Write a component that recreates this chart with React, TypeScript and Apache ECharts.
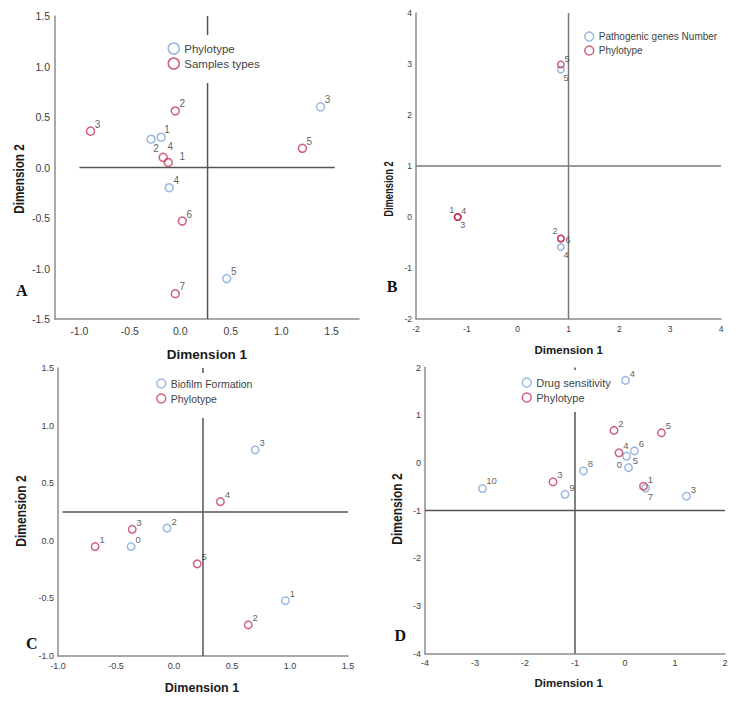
import React, { useEffect, useRef } from 'react';
import * as echarts from 'echarts';

const BLUE = '#7fa8d9';
const RED = '#c73a5f';
const FONT = '"Liberation Sans", Arial, Helvetica, sans-serif';
const SERIF = '"Liberation Serif", "Times New Roman", serif';

// ---------- Panel A ----------
const aXTicks = [-1, -0.5, 0, 0.5, 1, 1.5];
const aYTicks = [-1.5, -1, -0.5, 0, 0.5, 1, 1.5];
const aPhyloLabels = ['3', '1', '2', '4', '5'];
const aPhyloX = [1.39, -0.19, -0.29, -0.11, 0.46];
const aPhyloY = [0.6, 0.3, 0.28, -0.2, -1.1];
const aSampleLabels = ['3', '2', '4', '1', '6', '7', '5'];
const aSampleX = [-0.89, -0.05, -0.17, -0.12, 0.02, -0.05, 1.21];
const aSampleY = [0.36, 0.56, 0.1, 0.05, -0.53, -1.25, 0.19];
const aRefV = [0.27, -1.5, 1.5]; // x, y from, y to
const aRefH = [0, -1.0, 1.53]; // y, x from, x to

// ---------- Panel B ----------
const bXTicks = [-2, -1, 0, 1, 2, 3, 4];
const bYTicks = [-2, -1, 0, 1, 2, 3, 4];
const bGenesLabels = ['5', '4'];
const bGenesX = [0.85, 0.85];
const bGenesY = [2.89, -0.59];
const bPhyloLabels = ['5', '1', '4', '3', '2', '6'];
const bPhyloX = [0.85, -1.18, -1.18, -1.18, 0.85, 0.85];
const bPhyloY = [2.99, 0.0, 0.0, 0.0, -0.42, -0.42];
const bRefV = [1, -2, 4];
const bRefH = [1, -2, 4];

// ---------- Panel C ----------
const cXTicks = [-1, -0.5, 0, 0.5, 1, 1.5];
const cYTicks = [-1, -0.5, 0, 0.5, 1, 1.5];
const cBioLabels = ['3', '2', '0', '1'];
const cBioX = [0.7, -0.06, -0.37, 0.96];
const cBioY = [0.79, 0.11, -0.05, -0.52];
const cPhyloLabels = ['4', '3', '1', '5', '2'];
const cPhyloX = [0.4, -0.36, -0.68, 0.2, 0.64];
const cPhyloY = [0.34, 0.1, -0.05, -0.2, -0.73];
const cRefV = [0.25, -1, 1.5];
const cRefH = [0.25, -0.96, 1.5];

// ---------- Panel D ----------
const dXTicks = [-4, -3, -2, -1, 0, 1, 2];
const dYTicks = [-4, -3, -2, -1, 0, 1, 2];
const dDrugLabels = ['4', '6', '0', '5', '8', '9', '10', '7', '3'];
const dDrugX = [0.01, 0.19, 0.03, 0.07, -0.83, -1.2, -2.85, 0.41, 1.23];
const dDrugY = [1.73, 0.25, 0.14, -0.1, -0.17, -0.66, -0.54, -0.53, -0.7];
const dPhyloLabels = ['2', '5', '4', '3', '1'];
const dPhyloX = [-0.22, 0.73, -0.12, -1.44, 0.37];
const dPhyloY = [0.68, 0.63, 0.21, -0.4, -0.49];
const dRefV = [-1, -4, 2];
const dRefH = [-1, -4, 2];

// label offsets (placement of the point numbers)
const TR = [7, -7];
const BR = [5, 8];
const TL = [-6, -7];
const aPhyloOffsets = [TR, [6, -8], [5, 9], TR, TR];
const aSampleOffsets = [TR, TR, [7, -11], [14, -6], TR, TR, TR];
const bGenesOffsets = [BR, BR];
const bPhyloOffsets = [[6, -6], TL, [6, -6], BR, TL, [7, 2]];
const cBioOffsets = [TR, TR, TR, TR];
const cPhyloOffsets = [TR, TR, TR, TR, TR];
const dDrugOffsets = [TR, TR, [-7, 8], TR, TR, TR, [9, -8], BR, TR];
const dPhyloOffsets = [TR, TR, TR, TR, TR];

const panels = [
  {
    key: 'A',
    xTicks: aXTicks, yTicks: aYTicks, refV: aRefV, refH: aRefH,
    sets: [
      { name: 'Phylotype', color: BLUE, labels: aPhyloLabels, xs: aPhyloX, ys: aPhyloY, offs: aPhyloOffsets },
      { name: 'Samples types', color: RED, labels: aSampleLabels, xs: aSampleX, ys: aSampleY, offs: aSampleOffsets },
    ],
    grid: { left: 55, top: 16, width: 304, height: 303 },
    xMin: -1.242, xMax: 1.771, yMin: -1.5, yMax: 1.5, dec: 1,
    tickFont: 10.5, xMargin: 6, yMargin: 5, ptFont: 10, sym: 8, refColor: '#555',
    legend: { left: 163.5, top: 35, padding: [7, 6, 13, 4], icon: 11, font: 11.5, gap: 2 },
    letter: { x: 21.7, y: 290 },
    dim1: { x: 207, y: 354, size: 13.5 },
    dim2: { x: 19, y: 179, size: 15, scale: 0.78 },
  },
  {
    key: 'B',
    xTicks: bXTicks, yTicks: bYTicks, refV: bRefV, refH: bRefH,
    sets: [
      { name: 'Pathogenic genes Number', color: BLUE, labels: bGenesLabels, xs: bGenesX, ys: bGenesY, offs: bGenesOffsets },
      { name: 'Phylotype', color: RED, labels: bPhyloLabels, xs: bPhyloX, ys: bPhyloY, offs: bPhyloOffsets },
    ],
    grid: { left: 416, top: 13, width: 305, height: 306 },
    xMin: -2, xMax: 4, yMin: -2, yMax: 4, dec: 0,
    tickFont: 8.5, xMargin: 5, yMargin: 4, ptFont: 9, sym: 6.5, refColor: '#777',
    legend: { left: 580, top: 26, padding: [4, 6, 4, 4], icon: 9, font: 10, gap: 1 },
    letter: { x: 392, y: 286.7 },
    dim1: { x: 568.7, y: 350, size: 11.5 },
    dim2: { x: 388.7, y: 189, size: 13, scale: 0.72 },
  },
  {
    key: 'C',
    xTicks: cXTicks, yTicks: cYTicks, refV: cRefV, refH: cRefH,
    sets: [
      { name: 'Biofilm Formation', color: BLUE, labels: cBioLabels, xs: cBioX, ys: cBioY, offs: cBioOffsets },
      { name: 'Phylotype', color: RED, labels: cPhyloLabels, xs: cPhyloX, ys: cPhyloY, offs: cPhyloOffsets },
    ],
    grid: { left: 58, top: 368, width: 290, height: 288 },
    xMin: -1, xMax: 1.5, yMin: -1, yMax: 1.5, dec: 1,
    tickFont: 9, xMargin: 5, yMargin: 4, ptFont: 9.5, sym: 7.5, refColor: '#555',
    legend: { left: 152, top: 373, padding: [4, 6, 13, 4], icon: 9, font: 10.5, gap: 2 },
    letter: { x: 31.7, y: 643.3 },
    dim1: { x: 202, y: 688, size: 12.5 },
    dim2: { x: 21, y: 511, size: 15, scale: 0.8 },
  },
  {
    key: 'D',
    xTicks: dXTicks, yTicks: dYTicks, refV: dRefV, refH: dRefH,
    sets: [
      { name: 'Drug sensitivity', color: BLUE, labels: dDrugLabels, xs: dDrugX, ys: dDrugY, offs: dDrugOffsets },
      { name: 'Phylotype', color: RED, labels: dPhyloLabels, xs: dPhyloX, ys: dPhyloY, offs: dPhyloOffsets },
    ],
    grid: { left: 425, top: 367.5, width: 300, height: 286 },
    xMin: -4, xMax: 2, yMin: -4, yMax: 2, dec: 0,
    tickFont: 9, xMargin: 5, yMargin: 4, ptFont: 9.5, sym: 7.5, refColor: '#555',
    legend: { left: 517.5, top: 370, padding: [6, 6, 8, 4], icon: 9, font: 11, gap: 2 },
    letter: { x: 400.3, y: 635 },
    dim1: { x: 568.7, y: 683.3, size: 11.5 },
    dim2: { x: 397, y: 509, size: 15, scale: 0.8 },
  },
];

function buildOption() {
  const grid: any[] = [];
  const xAxis: any[] = [];
  const yAxis: any[] = [];
  const series: any[] = [];
  const legend: any[] = [];
  const graphic: any[] = [];

  panels.forEach((p, k) => {
    grid.push({ ...p.grid, containLabel: false, outerBoundsMode: 'none' });
    const fmt = (v: number) => (p.dec ? Number(v).toFixed(1) : String(Math.round(v)));
    const axisCommon = {
      type: 'value',
      gridIndex: k,
      axisTick: { show: false },
      splitLine: { show: false },
      axisLine: { show: true, onZero: false, lineStyle: { color: '#8c8c8c', width: 1.5 } },
    };
    xAxis.push({
      ...axisCommon,
      min: p.xMin,
      max: p.xMax,
      axisLabel: {
        customValues: p.xTicks,
        formatter: fmt,
        fontSize: p.tickFont,
        fontFamily: FONT,
        color: '#3c3c3c',
        margin: p.xMargin,
      },
    });
    yAxis.push({
      ...axisCommon,
      min: p.yMin,
      max: p.yMax,
      axisLabel: {
        customValues: p.yTicks,
        formatter: fmt,
        fontSize: p.tickFont,
        fontFamily: FONT,
        color: '#3c3c3c',
        margin: p.yMargin,
      },
    });

    // reference lines
    series.push({
      type: 'line',
      name: p.key + '|refV',
      xAxisIndex: k,
      yAxisIndex: k,
      data: [[p.refV[0], p.refV[1]], [p.refV[0], p.refV[2]]],
      symbol: 'none',
      silent: true,
      z: 1,
      lineStyle: { color: p.refColor, width: 1.5 },
    });
    series.push({
      type: 'line',
      name: p.key + '|refH',
      xAxisIndex: k,
      yAxisIndex: k,
      data: [[p.refH[1], p.refH[0]], [p.refH[2], p.refH[0]]],
      symbol: 'none',
      silent: true,
      z: 1,
      lineStyle: { color: p.refColor, width: 1.5 },
    });

    const legendData: any[] = [];
    p.sets.forEach((s) => {
      const sName = p.key + '|' + s.name;
      series.push({
        type: 'scatter',
        name: sName,
        xAxisIndex: k,
        yAxisIndex: k,
        symbol: 'circle',
        symbolSize: p.sym,
        silent: true,
        z: 3,
        itemStyle: { color: 'transparent', borderColor: s.color, borderWidth: 1.5 },
        label: {
          show: true,
          position: 'inside',
          formatter: '{b}',
          fontSize: p.ptFont,
          fontFamily: FONT,
          color: '#333',
          textBorderWidth: 0,
        },
        data: s.labels.map((lab, i) => ({
          name: lab,
          value: [s.xs[i], s.ys[i]],
          label: { offset: s.offs[i] },
        })),
      });
      legendData.push({
        name: sName,
        itemStyle: { color: 'transparent', borderColor: s.color, borderWidth: 1.5 },
      });
    });

    legend.push({
      orient: 'vertical',
      left: p.legend.left,
      top: p.legend.top,
      padding: p.legend.padding,
      backgroundColor: '#ffffff',
      itemWidth: p.legend.icon,
      itemHeight: p.legend.icon,
      itemGap: p.legend.gap,
      icon: 'circle',
      selectedMode: false,
      z: 5,
      data: legendData,
      formatter: (n: string) => n.split('|')[1],
      textStyle: { fontSize: p.legend.font, fontFamily: FONT, color: '#444', lineHeight: 13 },
    });

    graphic.push({
      type: 'text',
      x: p.letter.x,
      y: p.letter.y,
      z: 100,
      style: { text: p.key, font: 'bold 16px ' + SERIF, fill: '#111', align: 'center', verticalAlign: 'middle' },
    });
    graphic.push({
      type: 'text',
      x: p.dim1.x,
      y: p.dim1.y,
      z: 100,
      style: { text: 'Dimension 1', font: `bold ${p.dim1.size}px ${FONT}`, fill: '#1a1a1a', align: 'center', verticalAlign: 'middle' },
    });
    graphic.push({
      type: 'text',
      x: p.dim2.x,
      y: p.dim2.y,
      rotation: Math.PI / 2,
      scaleX: p.dim2.scale,
      z: 100,
      style: { text: 'Dimension 2', font: `bold ${p.dim2.size}px ${FONT}`, fill: '#1a1a1a', align: 'center', verticalAlign: 'middle' },
    });
  });

  return {
    animation: false,
    backgroundColor: '#ffffff',
    grid,
    xAxis,
    yAxis,
    legend,
    series,
    graphic,
  };
}

export default function App() {
  const ref = useRef<HTMLDivElement>(null);
  useEffect(() => {
    if (!ref.current) return;
    const chart = echarts.init(ref.current, null, { renderer: 'svg' });
    chart.setOption(buildOption() as any);
    return () => chart.dispose();
  }, []);
  return (
    <div
      ref={ref}
      style={{ position: 'absolute', left: 0, top: 0, width: 745, height: 704, background: '#fff' }}
    />
  );
}
